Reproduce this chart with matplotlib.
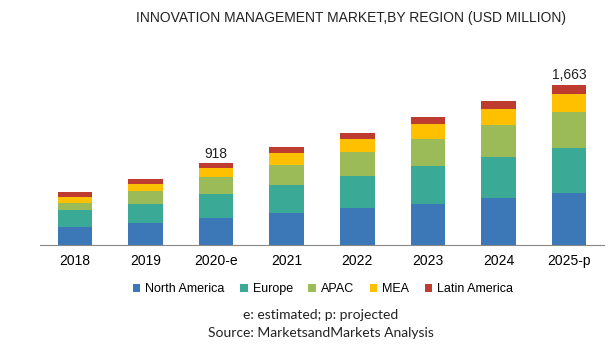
import matplotlib.pyplot as plt
import numpy as np

# Innovation management market by region (USD million)
years = ["2018", "2019", "2020-e", "2021", "2022", "2023", "2024", "2025-p"]
north_america = [188, 230, 282, 334, 379, 428, 483, 536]
europe = [170, 198, 251, 292, 334, 389, 428, 473]
apac = [80, 136, 167, 209, 251, 285, 337, 376]
mea = [63, 73, 94, 115, 136, 153, 164, 185]
latin_america = [45, 42, 52, 63, 63, 70, 80, 94]
total_labels = {"2020-e": "918", "2025-p": "1,663"}

series = [
    ("North America", north_america, "#3C78B8"),
    ("Europe", europe, "#3AAA96"),
    ("APAC", apac, "#9BBB59"),
    ("MEA", mea, "#FFC000"),
    ("Latin America", latin_america, "#BE3B2F"),
]

plt.rcParams['font.family'] = ['Liberation Sans', 'DejaVu Sans']

fig = plt.figure(figsize=(6.15, 3.51), dpi=100)
ax = fig.add_axes([40 / 615, 106.3 / 351, 564 / 615, 184.7 / 351])

x = np.arange(len(years))
bottom = np.zeros(len(years))
for name, vals, color in series:
    ax.bar(x, vals, 0.49, bottom=bottom, color=color, label=name)
    bottom += np.array(vals)

for i, yr in enumerate(years):
    if yr in total_labels:
        ax.text(x[i], bottom[i] + 28, total_labels[yr], ha='center', va='bottom',
                fontsize=10, color='#222222')

ax.set_xlim(-0.496, len(years) - 0.504)
ax.set_ylim(0, 1923)
ax.set_xticks(x)
ax.set_xticklabels(years, fontsize=10)
ax.tick_params(axis='x', length=0, pad=7)
ax.set_yticks([])
for side in ['top', 'left', 'right']:
    ax.spines[side].set_visible(False)
ax.spines['bottom'].set_color('#888888')

fig.text(351.5 / 615, 0.948, "INNOVATION MANAGEMENT MARKET,BY REGION (USD MILLION)",
         ha='center', va='center', fontsize=10, color='#222222')

fig.legend(loc='center', bbox_to_anchor=(323 / 615, 1 - 289 / 351), ncol=5, frameon=False,
           fontsize=9, handlelength=0.6, handleheight=0.6, handletextpad=0.4,
           columnspacing=1.25)

fig.text(321 / 615, 1 - 315 / 351, "e: estimated; p: projected", ha='center', va='center',
         fontsize=10, family=['Lato', 'DejaVu Sans'], color='#222222')
fig.text(321 / 615, 1 - 333 / 351, "Source: MarketsandMarkets Analysis", ha='center',
         va='center', fontsize=10, family=['Lato', 'DejaVu Sans'], color='#222222')

fig.savefig("out.png", dpi=100)
